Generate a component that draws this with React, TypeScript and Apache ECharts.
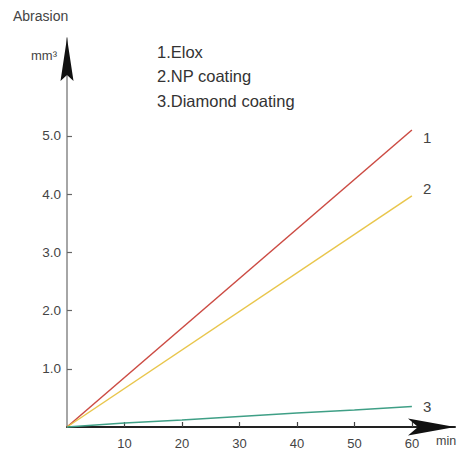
import React, { useEffect, useRef } from "react";
import * as echarts from "echarts";

const xTicks = [10, 20, 30, 40, 50, 60];
const yTicks = [1, 2, 3, 4, 5];
const seriesNames = ["1", "2", "3"];
const legendLines = ["1.Elox", "2.NP coating", "3.Diamond coating"];
const eloxData: [number, number][] = [[0, 0], [60, 5.1]];
const npData: [number, number][] = [[0, 0], [60, 3.97]];
const diamondData: [number, number][] = [[0, 0], [10, 0.07], [20, 0.12], [30, 0.18], [40, 0.24], [50, 0.29], [60, 0.35]];
const colors = ["#cc4b43", "#e9c64c", "#3f9f86"];
const X_MAX = 67.5;
const Y_MAX = 6.68;

const FONT = "Liberation Sans, Arial, sans-serif";

export default function App() {
  const ref = useRef<HTMLDivElement>(null);
  useEffect(() => {
    if (!ref.current) return;
    const chart = echarts.init(ref.current, null, { renderer: "svg" });
    const mk = (name: string, data: [number, number][], color: string, offset: number[]) => ({
      name,
      type: "line",
      data,
      symbol: "none",
      clip: false,
      lineStyle: { color, width: 1.5 },
      itemStyle: { color },
      endLabel: {
        show: true,
        formatter: name,
        color: "#444",
        fontSize: 15,
        fontFamily: FONT,
        offset,
      },
    });
    const txt = (id: string, text: string, left: number, top: number, size: number, fill = "#444") => ({
      id,
      type: "text",
      left,
      top,
      style: { text, fill, fontSize: size, fontFamily: FONT },
    });
    const texts = [
      txt("t0", "Abrasion", 13, 9, 14),
      txt("t1", "mm³", 31, 49, 13),
      txt("t2", "min", 436, 434, 12.5),
      ...legendLines.map((t, i) => txt("l" + i, t, 157, 43 + i * 24.5, 16.5, "#333")),
    ];
    chart.setOption({
      animation: false,
      backgroundColor: "#fff",
      grid: { left: 67, right: 7, top: 38, bottom: 29, containLabel: false },
      xAxis: {
        type: "value",
        min: 0,
        max: X_MAX,
        interval: 10,
        axisLine: { show: true, lineStyle: { color: "#222", width: 2 } },
        axisTick: { show: true, inside: true, length: 5, customValues: xTicks, lineStyle: { color: "#444", width: 1.2 } },
        axisLabel: { customValues: xTicks, color: "#444", fontSize: 13, fontFamily: FONT, margin: 10 },
        splitLine: { show: false },
      },
      yAxis: {
        type: "value",
        min: 0,
        max: Y_MAX,
        interval: 1,
        axisLine: { show: true, lineStyle: { color: "#888", width: 1.5 } },
        axisTick: { show: true, inside: true, length: 5, customValues: yTicks, lineStyle: { color: "#666", width: 1.2 } },
        axisLabel: {
          customValues: yTicks,
          color: "#444",
          fontSize: 13.5,
          fontFamily: FONT,
          margin: 6,
          formatter: (v: number) => v.toFixed(1),
        },
        splitLine: { show: false },
      },
      series: [
        mk(seriesNames[0], eloxData, colors[0], [3, 7]),
        mk(seriesNames[1], npData, colors[1], [3, -7]),
        mk(seriesNames[2], diamondData, colors[2], [3, 0]),
      ],
      graphic: texts,
    });
    const yTip = chart.convertToPixel({ gridIndex: 0 }, [0, Y_MAX]) as number[];
    const xTip = chart.convertToPixel({ gridIndex: 0 }, [X_MAX, 0]) as number[];
    const yArrow = [
      [yTip[0], yTip[1]],
      [yTip[0] + 6.5, yTip[1] + 43],
      [yTip[0], yTip[1] + 37],
      [yTip[0] - 6.5, yTip[1] + 43],
    ];
    const xArrow = [
      [xTip[0], xTip[1]],
      [xTip[0] - 47, xTip[1] - 8.5],
      [xTip[0] - 37, xTip[1]],
      [xTip[0] - 47, xTip[1] + 8.5],
    ];
    chart.setOption({
      graphic: [
        { id: "ya", type: "polygon", z: 10, shape: { points: yArrow }, style: { fill: "#111" } },
        { id: "xa", type: "polygon", z: 10, shape: { points: xArrow }, style: { fill: "#111" } },
      ],
    });
    return () => chart.dispose();
  }, []);
  return <div ref={ref} style={{ position: "fixed", left: 0, top: 0, width: 462, height: 456 }} />;
}
